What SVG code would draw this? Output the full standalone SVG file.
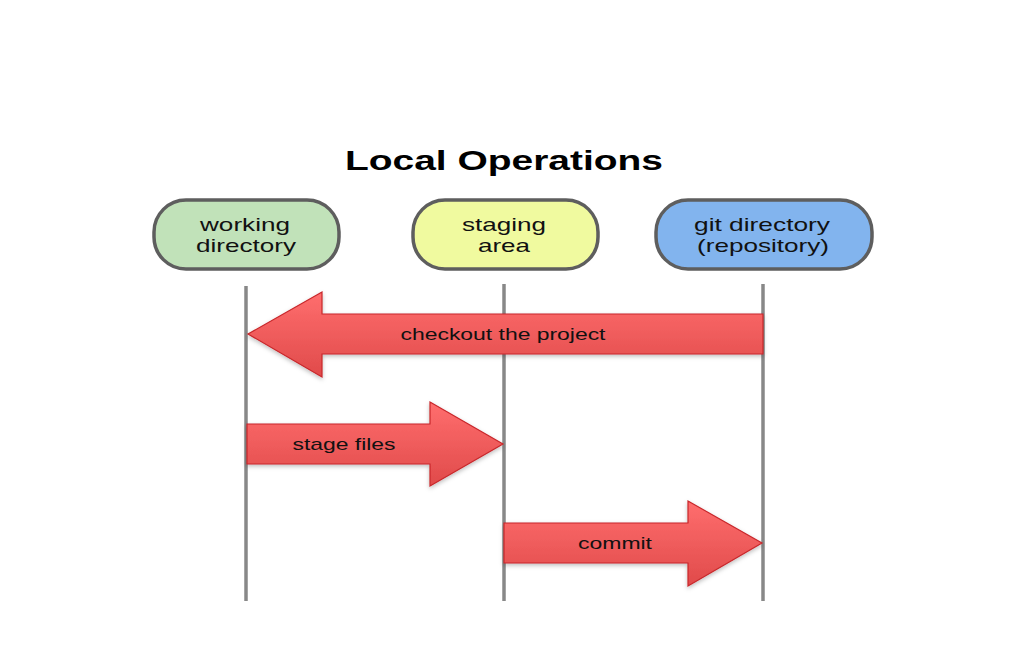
<svg xmlns="http://www.w3.org/2000/svg" width="1024" height="655" viewBox="0 0 1024 655">
<defs>
<linearGradient id="red" x1="0" y1="0" x2="0" y2="1">
<stop offset="0" stop-color="#ff6e6e"/>
<stop offset="1" stop-color="#e04a4a"/>
</linearGradient>
<filter id="sh" x="-10%" y="-10%" width="120%" height="130%">
<feDropShadow dx="0" dy="2" stdDeviation="2" flood-color="#000" flood-opacity="0.25"/>
</filter>
<style>
.node{stroke:#5e5e5e;stroke-width:3.5}
.lbl{font-family:"Liberation Sans",Arial,sans-serif;font-size:19px;fill:#111;text-anchor:middle}
.life{stroke:#888;stroke-width:3.5;fill:none}
.arrow{fill:url(#red);stroke:#c8262a;stroke-width:1.2;filter:url(#sh)}
.alb{font-family:"Liberation Sans",Arial,sans-serif;font-size:17px;fill:#111;text-anchor:middle}
</style>
</defs>
<rect width="1024" height="655" fill="#fff"/>
<text x="504" y="170" font-family="Liberation Sans,Arial,sans-serif" font-size="28" font-weight="bold" text-anchor="middle" fill="#000" textLength="318" lengthAdjust="spacingAndGlyphs">Local Operations</text>
<g id="lifelines">
<line class="life" x1="246" y1="286" x2="246" y2="601"/>
<line class="life" x1="504" y1="284" x2="504" y2="601"/>
<line class="life" x1="763" y1="284" x2="763" y2="601"/>
</g>
<g id="working">
<rect class="node" x="154" y="200" width="185" height="69" rx="32" fill="#c1e2b9"/>
<text class="lbl" x="245" y="231" textLength="90" lengthAdjust="spacingAndGlyphs">working</text>
<text class="lbl" x="246" y="252" textLength="100" lengthAdjust="spacingAndGlyphs">directory</text>
</g>
<g id="staging">
<rect class="node" x="413" y="200" width="185" height="69" rx="32" fill="#f0fa9f"/>
<text class="lbl" x="504" y="231" textLength="84" lengthAdjust="spacingAndGlyphs">staging</text>
<text class="lbl" x="504" y="252" textLength="52" lengthAdjust="spacingAndGlyphs">area</text>
</g>
<g id="gitdir">
<rect class="node" x="656" y="200" width="216" height="69" rx="32" fill="#82b4ee"/>
<text class="lbl" x="762" y="231" textLength="136" lengthAdjust="spacingAndGlyphs">git directory</text>
<text class="lbl" x="763" y="252" textLength="132" lengthAdjust="spacingAndGlyphs">(repository)</text>
</g>
<g id="connectors">
<g id="checkout">
<polygon class="arrow" points="763,314 322,314 322,292 248,334 322,377 322,354 763,354"/>
<text class="alb" x="503" y="340" textLength="205" lengthAdjust="spacingAndGlyphs">checkout the project</text>
</g>
<g id="stage">
<polygon class="arrow" points="247,424 430,424 430,402 503,444 430,486 430,464 247,464"/>
<text class="alb" x="344" y="450" textLength="103" lengthAdjust="spacingAndGlyphs">stage files</text>
</g>
<g id="commit">
<polygon class="arrow" points="504,523 688,523 688,501 762,543 688,586 688,563 504,563"/>
<text class="alb" x="615" y="549" textLength="74" lengthAdjust="spacingAndGlyphs">commit</text>
</g>
</g>
</svg>
